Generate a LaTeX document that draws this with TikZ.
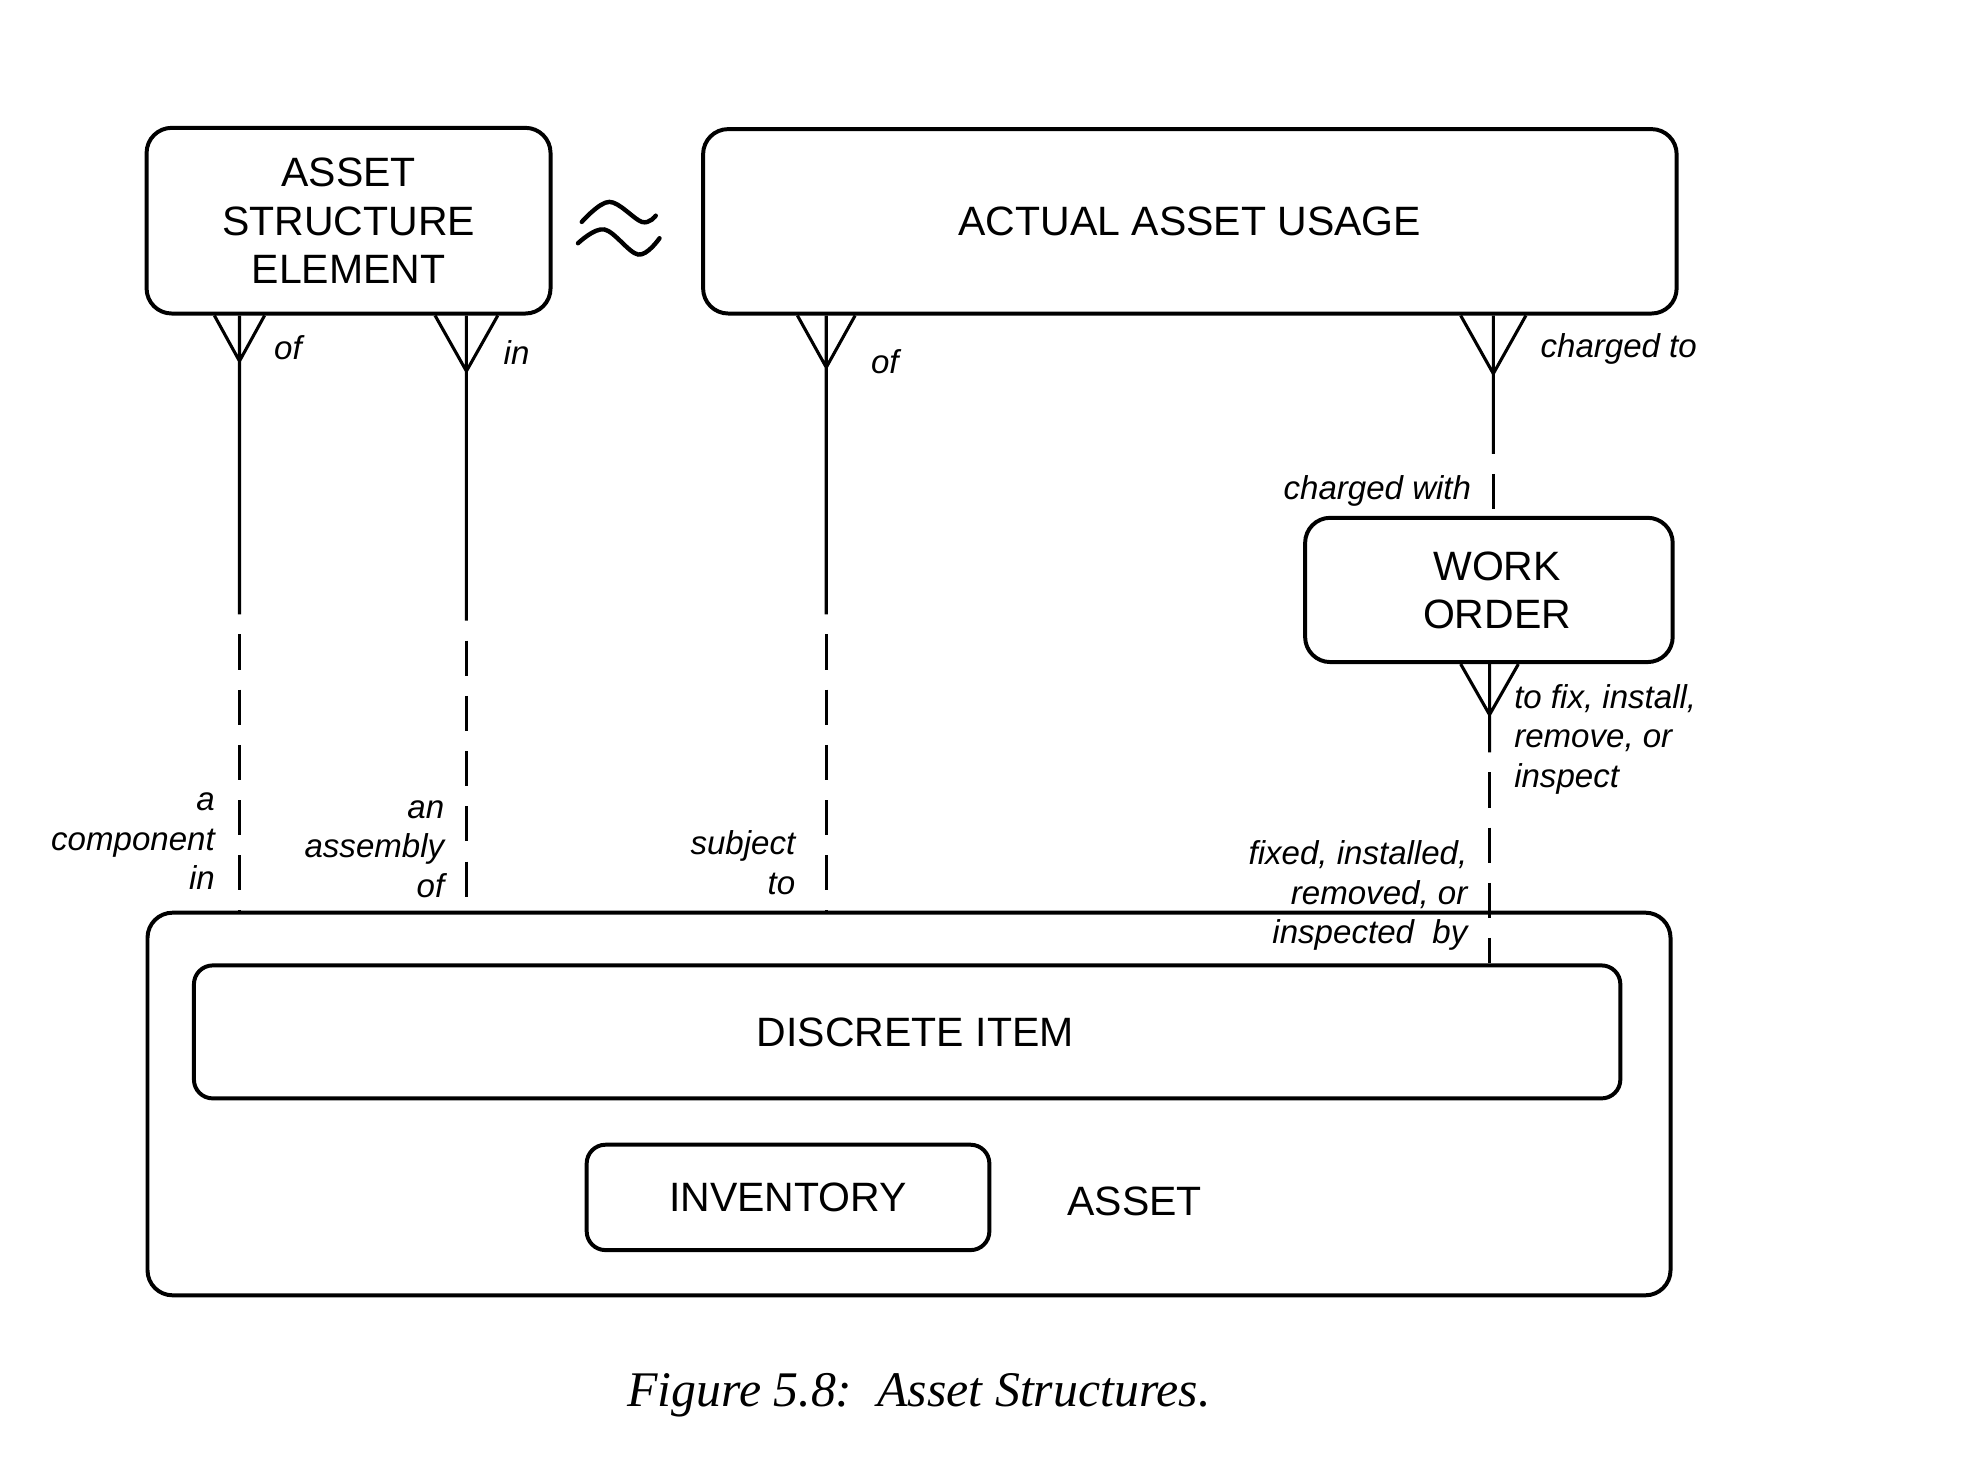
\documentclass[tikz,border=0pt]{standalone}
\usepackage{fontspec}
\setmainfont{Liberation Sans}
\newfontfamily\capfont{Liberation Serif}
\begin{document}
\begin{tikzpicture}[x=0.01cm,y=-0.01cm,
  ent/.style={draw, line width=0.9pt, rounded corners=0.2cm, align=center,
    font=\fontsize{9.3}{10.9}\selectfont},
  enttext/.style={font=\fontsize{9.3}{10.9}\selectfont, inner sep=0pt},
  rel/.style={line width=0.7pt},
  optl/.style={rel, dash pattern=on 0.28cm off 0.16cm, dash phase=0.28cm},
  lab/.style={font=\fontsize{7.5}{8.95}\selectfont\itshape, inner sep=0pt},
  wave/.style={line width=1pt, line cap=round}]
\useasboundingbox (0,0) rectangle (1568,1172);

% entities
\node[ent, minimum width=3.22cm, minimum height=1.48cm] (ase) at (278,176)
  {ASSET\\STRUCTURE\\ELEMENT};
\node[ent, minimum width=7.76cm, minimum height=1.47cm] (aau) at (949,176.5)
  {ACTUAL ASSET USAGE};
\node[ent, minimum width=2.93cm, minimum height=1.15cm] (wo) at (1187.5,470.5)
  {\hspace*{0.13cm}WORK\\\hspace*{0.13cm}ORDER};
\node[ent, minimum width=12.14cm, minimum height=3.05cm] (asset) at (725,880.5) {};
\node[ent, rounded corners=0.15cm, minimum width=11.37cm, minimum height=1.06cm] (di) at (723.5,823)
  {\hspace*{0.13cm}DISCRETE ITEM};
\node[ent, rounded corners=0.15cm, minimum width=3.21cm, minimum height=0.84cm] (inv) at (628.5,955)
  {\raisebox{-0.03cm}{INVENTORY}};
\node[enttext] (assetlab) at (905,958) {ASSET};

% tilde (approx. symbol)
\draw[wave] plot[smooth, tension=0.6] coordinates {(464,177) (486,161) (512,177) (523,172)};
\draw[wave] plot[smooth, tension=0.6] coordinates {(461,194) (482,183) (509,203) (526,190)};

% relationship 1: ASE -> ASSET (component)
\coordinate (f1) at (191,288);
\coordinate (m1) at (191,490);
\coordinate (t1) at (ase.south -| f1);
\draw[rel] ([xshift=-0.2cm]t1) -- (f1) -- ([xshift=0.2cm]t1) (t1) -- (f1) -- (m1);
\draw[optl] (m1) -- (asset.north -| m1);
\node[lab, anchor=base west] (l1a) at (218,287) {of};
\node[lab, anchor=north east, align=right] (l1b) at (172,624)
  {\strut a\\\strut component\\\strut in};

% relationship 2: ASE -> ASSET (assembly)
\coordinate (f2) at (372,296);
\coordinate (m2) at (372,495);
\coordinate (t2) at (ase.south -| f2);
\draw[rel] ([xshift=-0.25cm]t2) -- (f2) -- ([xshift=0.25cm]t2) (t2) -- (f2) -- (m2);
\draw[optl] (m2) -- (asset.north -| m2);
\node[lab, anchor=base west] (l2a) at (401,291) {in};
\node[lab, anchor=north east, align=right] (l2b) at (355,630)
  {\strut an\\\strut assembly\\\strut of};

% relationship 3: AAU -> ASSET
\coordinate (f3) at (659,293);
\coordinate (m3) at (659,490);
\coordinate (t3) at (aau.south -| f3);
\draw[rel] ([xshift=-0.23cm]t3) -- (f3) -- ([xshift=0.23cm]t3) (t3) -- (f3) -- (m3);
\draw[optl] (m3) -- (asset.north -| m3);
\node[lab, anchor=base west] (l3a) at (694,298) {of};
\node[lab, anchor=north east, align=right] (l3b) at (635,659)
  {\strut subject\\\strut to};

% relationship 4: AAU -> WORK ORDER
\coordinate (f4) at (1191,298);
\coordinate (m4) at (1191,362);
\coordinate (t4) at (aau.south -| f4);
\draw[rel] ([xshift=-0.26cm]t4) -- (f4) -- ([xshift=0.26cm]t4) (t4) -- (f4) -- (m4);
\draw[optl] (m4) -- (wo.north -| m4);
\node[lab, anchor=base west] (l4a) at (1228,285) {charged to};
\node[lab, anchor=base east] (l4b) at (1174,398) {charged with};

% relationship 5: WORK ORDER -> DISCRETE ITEM
\coordinate (f5) at (1188,570);
\coordinate (m5) at (1188,600);
\coordinate (t5) at (wo.south -| f5);
\draw[rel] ([xshift=-0.23cm]t5) -- (f5) -- ([xshift=0.23cm]t5) (t5) -- (f5) -- (m5);
\draw[optl] (m5) -- (di.north -| m5);
\node[lab, anchor=north west, align=left] (l5a) at (1207,542)
  {\strut to fix, install,\\\strut remove, or\\\strut inspect};
\node[lab, anchor=north east, align=right] (l5b) at (1171,667)
  {\strut fixed, installed,\\\strut removed, or\\\strut inspected\ \ by};

% caption
\node[font=\capfont\itshape\fontsize{11.3}{13}\selectfont, inner sep=0pt] (cap) at (733,1113)
  {Figure 5.8:\ \ Asset Structures.};
\end{tikzpicture}
\end{document}
